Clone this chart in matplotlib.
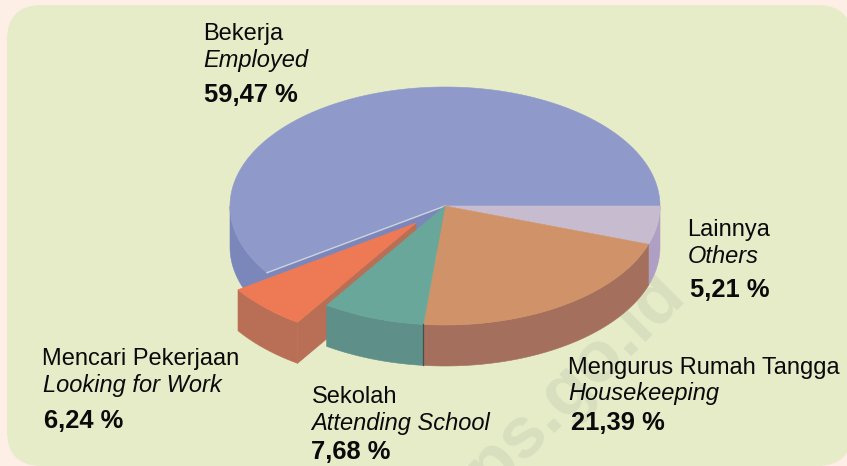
import numpy as np
import matplotlib
matplotlib.use("Agg")
import matplotlib.pyplot as plt
from matplotlib.patches import Polygon, FancyBboxPatch

# Data: clockwise from east, in the order drawn on the pie
names_id = ["Lainnya", "Mengurus Rumah Tangga", "Sekolah", "Mencari Pekerjaan", "Bekerja"]
names_en = ["Others", "Housekeeping", "Attending School", "Looking for Work", "Employed"]
values = [5.21, 21.39, 7.68, 6.24, 59.47]

top_cols = ["#c7bccf", "#d09369", "#68a79a", "#ee7a55", "#8f9aca"]
side_cols = ["#b09fc4", "#a56f5e", "#5f8f89", "#b86f55", "#7b86bb"]
offsets = [(0, 0), (0, 0), (0, 0), (-29, 17), (0, 0)]
label_pos = [
    ((687, 236), (688, 263), (690, 297)),
    ((568, 374), (568, 400), (571, 430)),
    ((312, 403), (311, 430), (311, 459)),
    ((42, 365), (43, 392), (44, 428)),
    ((203, 40), (203, 67), (204, 102)),
]

CX, CY, RX, RY, DEPTH = 445, 206, 215, 119, 41

fig = plt.figure(figsize=(8.47, 4.66), dpi=100, facecolor="#fdeee6")
ax = fig.add_axes([0, 0, 1, 1])
ax.set_xlim(0, 847)
ax.set_ylim(466, 0)
ax.axis("off")

panel = FancyBboxPatch((7, 5), 845, 461, boxstyle="round,pad=0,rounding_size=35",
                       fc="#e6ebc8", ec="none", zorder=0)
ax.add_patch(panel)


def arc(a0, a1, ox=0, oy=0, dz=0):
    t = np.radians(np.linspace(a0, a1, 200))
    return np.column_stack([CX + ox + RX * np.cos(t), CY + oy + dz + RY * np.sin(t)])


def poly(pts, col, z):
    ax.add_patch(Polygon(pts, closed=True, fc=col, ec=col, lw=0.4, zorder=z))


edges = np.concatenate([[0], np.cumsum(values)]) * 360 / sum(values)
spans = list(zip(edges[:-1], edges[1:]))

# Watermark, behind the pie
ax.text(560, 396, "bps.go.id", family="Liberation Sans", weight="bold", fontsize=52,
        rotation=45, rotation_mode="anchor", ha="center", va="center",
        color="#d8dfbe", zorder=0.5)

# Employed (back, with its radial wall showing through the exploded gap)
a0, a1 = spans[4]
poly(np.vstack([arc(a0, 180), arc(a0, 180, dz=DEPTH)[::-1]]), side_cols[4], 1)
ax_pt = arc(a0, a0)[0]
poly([(CX, CY), ax_pt, (ax_pt[0], ax_pt[1] + DEPTH), (CX, CY + DEPTH)], side_cols[4], 1)
poly(np.vstack([[(CX, CY)], arc(a0, a1)]), top_cols[4], 2)
ax.plot([CX, ax_pt[0]], [CY, ax_pt[1]], color="#cdd3dc", lw=1.0, zorder=2.5)

# Others
a0, a1 = spans[0]
poly(np.vstack([arc(a0, a1), arc(a0, a1, dz=DEPTH)[::-1]]), side_cols[0], 3)
poly(np.vstack([[(CX, CY)], arc(a0, a1)]), top_cols[0], 3.1)

# Looking for Work, pulled out of the pie
a0, a1 = spans[3]
ox, oy = offsets[3]
p = arc(a0, a0, ox, oy)[0]
apex = (CX + ox, CY + oy)
poly([apex, p, (p[0], p[1] + DEPTH), (apex[0], apex[1] + DEPTH)], side_cols[3], 3)
poly(np.vstack([arc(a0, a1, ox, oy), arc(a0, a1, ox, oy, DEPTH)[::-1]]), side_cols[3], 3.1)
poly(np.vstack([[apex], arc(a0, a1, ox, oy)]), top_cols[3], 3.2)

# Housekeeping
a0, a1 = spans[1]
poly(np.vstack([arc(a0, a1), arc(a0, a1, dz=DEPTH)[::-1]]), side_cols[1], 4)
poly(np.vstack([[(CX, CY)], arc(a0, a1)]), top_cols[1], 4.1)

# Attending School
a0, a1 = spans[2]
poly(np.vstack([arc(a0, a1), arc(a0, a1, dz=DEPTH)[::-1]]), side_cols[2], 4)
poly(np.vstack([[(CX, CY)], arc(a0, a1)]), top_cols[2], 4.1)
b = arc(a0, a0)[0]
ax.plot([b[0], b[0]], [b[1], b[1] + DEPTH], color="#4a4f48", lw=0.9, zorder=4.2)

FS = 17.05
for n_id, n_en, v, (p1, p2, p3) in zip(names_id, names_en, values, label_pos):
    ax.text(*p1, n_id, family="Liberation Sans", fontsize=FS, va="baseline", color="#0a0a0a", zorder=6)
    ax.text(*p2, n_en, family="Liberation Sans", style="italic", fontsize=FS, va="baseline", color="#0a0a0a", zorder=6)
    ax.text(*p3, f"{v:.2f}".replace(".", ",") + " %", family="Liberation Sans", weight="bold",
            fontsize=18.4, va="baseline", color="#0a0a0a", zorder=6)

fig.savefig("out.png", dpi=100, facecolor=fig.get_facecolor())
